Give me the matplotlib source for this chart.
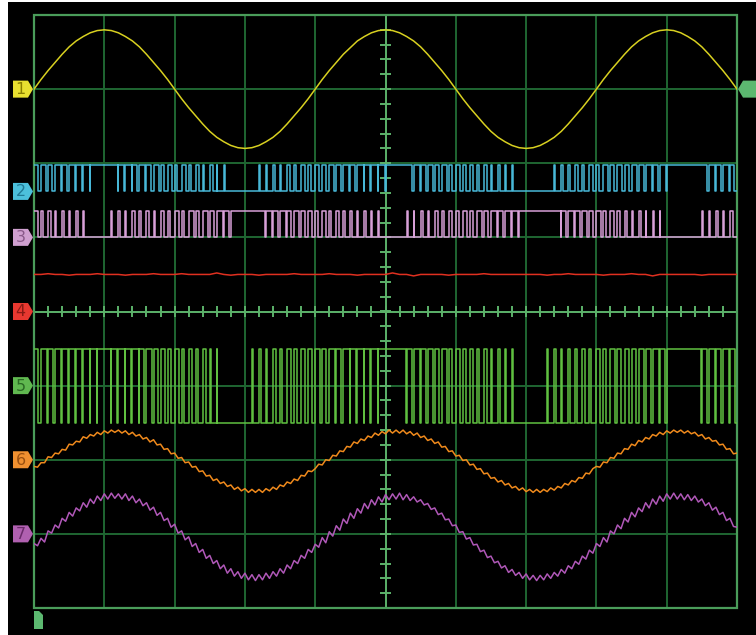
import numpy as np
import matplotlib
matplotlib.use("Agg")
import matplotlib.pyplot as plt
from matplotlib.patches import Polygon, Rectangle
from matplotlib.transforms import blended_transform_factory

# screen: 10 x 8 divisions; clean channels read every 0.1 div, noisy ones every 0.05 div
t_analog = np.linspace(0, 10, 101)
t_fine = np.linspace(0, 10, 201)

ch1_sine = [0.00, 0.13, 0.25, 0.36, 0.47, 0.57, 0.65, 0.71, 0.76, 0.79,
            0.80, 0.79, 0.76, 0.71, 0.65, 0.57, 0.47, 0.36, 0.25, 0.13,
            0.00, -0.13, -0.25, -0.36, -0.47, -0.57, -0.65, -0.71, -0.76, -0.79,
            -0.80, -0.79, -0.76, -0.71, -0.65, -0.57, -0.47, -0.36, -0.25, -0.13,
            0.00, 0.13, 0.25, 0.36, 0.47, 0.56, 0.65, 0.71, 0.76, 0.79,
            0.80, 0.79, 0.76, 0.71, 0.65, 0.57, 0.47, 0.36, 0.25, 0.13,
            0.00, -0.13, -0.25, -0.36, -0.47, -0.57, -0.65, -0.71, -0.76, -0.79,
            -0.80, -0.79, -0.76, -0.71, -0.65, -0.57, -0.47, -0.36, -0.25, -0.13,
            0.00, 0.13, 0.25, 0.36, 0.47, 0.57, 0.65, 0.71, 0.76, 0.79,
            0.80, 0.79, 0.76, 0.71, 0.65, 0.57, 0.47, 0.36, 0.25, 0.13,
            0.00]

ch4_dc = [0.50, 0.50, 0.51, 0.50, 0.50, 0.49, 0.50, 0.50, 0.50, 0.51,
          0.50, 0.50, 0.50, 0.49, 0.50, 0.50, 0.50, 0.51, 0.50, 0.50,
          0.50, 0.51, 0.50, 0.50, 0.50, 0.50, 0.52, 0.50, 0.49, 0.50,
          0.50, 0.50, 0.49, 0.50, 0.50, 0.50, 0.50, 0.51, 0.50, 0.50,
          0.50, 0.50, 0.51, 0.50, 0.50, 0.50, 0.49, 0.50, 0.50, 0.50,
          0.50, 0.52, 0.50, 0.50, 0.48, 0.50, 0.50, 0.50, 0.50, 0.49,
          0.50, 0.50, 0.50, 0.50, 0.51, 0.50, 0.50, 0.50, 0.50, 0.50,
          0.50, 0.50, 0.50, 0.49, 0.50, 0.50, 0.51, 0.50, 0.50, 0.50,
          0.50, 0.49, 0.50, 0.50, 0.50, 0.51, 0.50, 0.50, 0.48, 0.50,
          0.50, 0.50, 0.50, 0.50, 0.50, 0.49, 0.50, 0.50, 0.50, 0.50,
          0.50]

ch6_noisy = [-0.09, -0.10, -0.04, -0.04, 0.04, 0.03, 0.09, 0.08, 0.14, 0.13,
             0.21, 0.20, 0.25, 0.24, 0.31, 0.29, 0.34, 0.32, 0.37, 0.34,
             0.39, 0.36, 0.40, 0.37, 0.40, 0.36, 0.39, 0.34, 0.37, 0.32,
             0.34, 0.28, 0.30, 0.24, 0.27, 0.20, 0.21, 0.14, 0.15, 0.08,
             0.09, 0.02, 0.03, -0.04, -0.03, -0.10, -0.09, -0.16, -0.15, -0.22,
             -0.21, -0.28, -0.26, -0.32, -0.30, -0.36, -0.34, -0.40, -0.37, -0.42,
             -0.39, -0.44, -0.40, -0.44, -0.40, -0.44, -0.39, -0.42, -0.37, -0.40,
             -0.34, -0.36, -0.30, -0.32, -0.26, -0.28, -0.21, -0.22, -0.15, -0.16,
             -0.12, -0.06, -0.07, 0.00, -0.01, 0.06, 0.05, 0.12, 0.11, 0.18,
             0.17, 0.24, 0.22, 0.28, 0.26, 0.32, 0.30, 0.36, 0.33, 0.38,
             0.35, 0.40, 0.36, 0.40, 0.36, 0.40, 0.35, 0.38, 0.33, 0.36,
             0.30, 0.32, 0.26, 0.28, 0.22, 0.24, 0.17, 0.18, 0.11, 0.12,
             0.05, 0.06, -0.01, 0.00, -0.07, -0.06, -0.13, -0.12, -0.19, -0.18,
             -0.25, -0.24, -0.30, -0.28, -0.34, -0.32, -0.38, -0.36, -0.41, -0.38,
             -0.43, -0.40, -0.44, -0.40, -0.44, -0.40, -0.43, -0.38, -0.41, -0.36,
             -0.38, -0.32, -0.34, -0.28, -0.30, -0.24, -0.25, -0.18, -0.19, -0.12,
             -0.09, -0.10, -0.03, -0.04, 0.03, 0.02, 0.09, 0.08, 0.15, 0.14,
             0.21, 0.19, 0.26, 0.24, 0.30, 0.28, 0.34, 0.32, 0.37, 0.34,
             0.39, 0.36, 0.40, 0.37, 0.40, 0.36, 0.39, 0.35, 0.37, 0.32,
             0.34, 0.28, 0.30, 0.25, 0.26, 0.20, 0.21, 0.14, 0.15, 0.08,
             0.09]

ch7_noisy = [-0.13, -0.16, -0.06, -0.11, 0.04, 0.01, 0.12, 0.08, 0.21, 0.17,
             0.29, 0.24, 0.35, 0.31, 0.42, 0.36, 0.47, 0.41, 0.51, 0.45,
             0.54, 0.47, 0.55, 0.48, 0.54, 0.47, 0.54, 0.45, 0.51, 0.42,
             0.47, 0.38, 0.42, 0.32, 0.36, 0.25, 0.29, 0.18, 0.21, 0.09,
             0.13, 0.01, 0.04, -0.08, -0.04, -0.17, -0.13, -0.25, -0.21, -0.33,
             -0.29, -0.40, -0.36, -0.47, -0.42, -0.53, -0.47, -0.57, -0.51, -0.60,
             -0.53, -0.62, -0.55, -0.63, -0.55, -0.62, -0.53, -0.60, -0.51, -0.57,
             -0.47, -0.53, -0.42, -0.47, -0.36, -0.40, -0.29, -0.33, -0.21, -0.25,
             -0.14, -0.18, -0.05, -0.12, 0.03, -0.03, 0.11, 0.05, 0.20, 0.14,
             0.28, 0.21, 0.34, 0.28, 0.41, 0.34, 0.46, 0.39, 0.50, 0.43,
             0.53, 0.46, 0.54, 0.47, 0.55, 0.46, 0.53, 0.45, 0.50, 0.43,
             0.46, 0.39, 0.41, 0.33, 0.35, 0.26, 0.28, 0.19, 0.20, 0.11,
             0.12, 0.02, 0.03, -0.07, -0.05, -0.15, -0.14, -0.24, -0.22, -0.32,
             -0.30, -0.39, -0.37, -0.46, -0.43, -0.52, -0.48, -0.56, -0.52, -0.60,
             -0.54, -0.62, -0.56, -0.63, -0.56, -0.62, -0.54, -0.60, -0.52, -0.57,
             -0.48, -0.53, -0.43, -0.47, -0.37, -0.41, -0.30, -0.34, -0.22, -0.26,
             -0.13, -0.17, -0.05, -0.11, 0.04, 0.00, 0.12, 0.07, 0.21, 0.16,
             0.29, 0.23, 0.35, 0.30, 0.42, 0.35, 0.47, 0.40, 0.51, 0.44,
             0.54, 0.47, 0.55, 0.47, 0.54, 0.46, 0.53, 0.45, 0.51, 0.43,
             0.47, 0.38, 0.42, 0.32, 0.36, 0.26, 0.29, 0.18, 0.21, 0.10,
             0.09]

# digital channels: duty (tenths) of each 0.1 div pulse slot
ch2_duty = [5, 7, 6, 8, 7, 9, 8, 9, 10, 10,
            10, 9, 8, 9, 7, 8, 6, 8, 5, 7,
            4, 6, 3, 5, 2, 4, 1, 2, 0, 0,
            0, 0, 2, 1, 3, 2, 4, 3, 5, 4,
            6, 5, 7, 6, 8, 7, 9, 8, 9, 9,
            10, 10, 10, 8, 9, 7, 8, 6, 7, 5,
            6, 4, 5, 3, 4, 2, 3, 1, 2, 0,
            0, 0, 0, 0, 1, 3, 2, 4, 3, 5,
            4, 6, 5, 7, 6, 8, 7, 9, 8, 9,
            10, 10, 10, 10, 10, 8, 9, 7, 8, 6]

ch3_duty = [5, 3, 4, 2, 3, 1, 2, 1, 0, 0,
            0, 1, 2, 1, 3, 2, 4, 2, 5, 3,
            6, 4, 7, 5, 8, 6, 9, 8, 10, 10,
            10, 10, 8, 9, 7, 8, 6, 7, 5, 6,
            4, 5, 3, 4, 2, 3, 1, 2, 1, 1,
            0, 0, 0, 2, 1, 3, 2, 4, 3, 5,
            4, 6, 5, 7, 6, 8, 7, 9, 8, 10,
            10, 10, 10, 10, 9, 7, 8, 6, 7, 5,
            6, 4, 5, 3, 4, 2, 3, 1, 2, 1,
            0, 0, 0, 0, 0, 2, 1, 3, 2, 4]

ch5_duty = [6, 8, 7, 9, 8, 9, 8, 9, 9, 10,
            9, 8, 9, 8, 9, 7, 8, 6, 7, 5,
            6, 4, 5, 3, 4, 2, 1, 0, 0, 0,
            0, 1, 3, 2, 4, 3, 5, 4, 6, 5,
            7, 6, 8, 7, 9, 8, 9, 8, 9, 10,
            10, 10, 9, 8, 9, 7, 8, 6, 7, 5,
            6, 4, 5, 3, 4, 2, 3, 1, 2, 0,
            0, 0, 0, 1, 2, 1, 3, 2, 4, 3,
            5, 4, 6, 5, 7, 6, 8, 7, 9, 8,
            10, 10, 10, 10, 9, 8, 9, 7, 8, 7]

# channel offsets in divisions
offsets = {1: 3.0, 2: 1.62, 3: 1.0, 4: 0.0, 5: -1.0, 6: -2.0, 7: -3.0}
marker_colors = {1: "#e8e030", 2: "#4cc0dc", 3: "#d0a0d0", 4: "#e83830",
                 5: "#60b850", 6: "#f09030", 7: "#b060b0"}
label_colors = {1: "#8a8000", 2: "#207a96", 3: "#8a5a8a", 4: "#8a1a14",
                5: "#2a6a24", 6: "#9a5010", 7: "#6a2a6a"}


def pwm_trace(duty, lo, hi, slot=0.1):
    xs, ys = [], []
    for i, d in enumerate(duty):
        x0 = i * slot
        if d >= 10:
            xs += [x0, x0 + slot]
            ys += [hi, hi]
        elif d <= 0:
            xs += [x0, x0 + slot]
            ys += [lo, lo]
        else:
            w = slot * d / 10.0
            xs += [x0, x0 + w, x0 + w, x0 + slot]
            ys += [hi, hi, lo, lo]
    return xs, ys


fig = plt.figure(figsize=(7.56, 6.35), dpi=100)
fig.patch.set_facecolor("white")
# black scope screen, leaving a thin white margin at left and top
bg = fig.add_axes([8 / 756, 0, 1 - 8 / 756, 1 - 2 / 635], zorder=0)
bg.set_facecolor("black")
bg.set_xticks([])
bg.set_yticks([])
for s in bg.spines.values():
    s.set_visible(False)

ax = fig.add_axes([34 / 756, 1 - 608 / 635, 703 / 756, 593 / 635], zorder=1)
ax.set_xlim(0, 10)
ax.set_ylim(-4, 4)
ax.axis("off")

grid_c = "#1f6632"
border_c = "#4a9c5a"
center_c = "#5cb26a"

for gx in range(1, 10):
    if gx != 5:
        ax.axvline(gx, color=grid_c, lw=1.4, zorder=1)
for gy in range(-3, 4):
    if gy != 0:
        ax.axhline(gy, color=grid_c, lw=1.4, zorder=1)
ax.axvline(5, color=center_c, lw=1.4, zorder=1)
ax.axhline(0, color=center_c, lw=1.4, zorder=1)
ax.hlines(np.arange(-3.8, 3.81, 0.2), 5 - 0.075, 5 + 0.075, color=center_c, lw=1.4, zorder=1)
ax.vlines(np.arange(0.2, 9.81, 0.2), -0.07, 0.07, color=center_c, lw=1.4, zorder=1)
ax.add_patch(Rectangle((0, -4), 10, 8, fill=False, edgecolor=border_c, lw=1.6,
                       clip_on=False, zorder=2))

lw = 1.1
ax.plot(t_analog, np.array(ch1_sine) + offsets[1], color="#d8d020", lw=lw, zorder=3)

x2, y2 = pwm_trace(ch2_duty, offsets[2], offsets[2] + 0.36)
ax.plot(x2, y2, color="#48b8d8", lw=lw, zorder=3)
x3, y3 = pwm_trace(ch3_duty, offsets[3], offsets[3] + 0.36)
ax.plot(x3, y3, color="#d8a0d8", lw=lw, zorder=3)

ax.plot(t_analog, np.array(ch4_dc) + offsets[4], color="#e03020", lw=lw, zorder=3)

x5, y5 = pwm_trace(ch5_duty, offsets[5] - 0.5, offsets[5] + 0.5)
ax.plot(x5, y5, color="#60c040", lw=lw, zorder=3)

ax.plot(t_fine, np.array(ch6_noisy) + offsets[6], color="#f08a1c", lw=lw, zorder=3)
ax.plot(t_fine, np.array(ch7_noisy) + offsets[7], color="#b058b8", lw=lw, zorder=3)

# channel tags on the left edge
px = 1 / 703.0
py = 8 / 593.0
bt = blended_transform_factory(ax.transAxes, ax.transData)
for ch, y in offsets.items():
    verts = [(-21 * px, y + 8.5 * py), (-6 * px, y + 8.5 * py), (-1 * px, y),
             (-6 * px, y - 8.5 * py), (-21 * px, y - 8.5 * py)]
    ax.add_patch(Polygon(verts, closed=True, transform=bt, facecolor=marker_colors[ch],
                         edgecolor="none", clip_on=False, zorder=4))
    ax.text(-13.5 * px, y - 0.5 * py, str(ch), transform=bt, ha="center", va="center",
            fontsize=11.5, color=label_colors[ch], clip_on=False, zorder=5)

# trigger level tag on the right
ty = offsets[1]
verts = [(1 + 1 * px, ty), (1 + 6 * px, ty + 8.5 * py), (1 + 20 * px, ty + 8.5 * py),
         (1 + 20 * px, ty - 8.5 * py), (1 + 6 * px, ty - 8.5 * py)]
ax.add_patch(Polygon(verts, closed=True, transform=bt, facecolor="#5cb870",
                     edgecolor="none", clip_on=False, zorder=4))

# trigger position tag below the screen
verts = [(0, -4 - 3 * py), (5 * px, -4 - 3 * py), (9 * px, -4 - 7 * py),
         (9 * px, -4 - 21 * py), (0, -4 - 21 * py)]
ax.add_patch(Polygon(verts, closed=True, transform=bt, facecolor="#5cb870",
                     edgecolor="none", clip_on=False, zorder=4))

fig.savefig("out.png", dpi=100, facecolor=fig.get_facecolor())
